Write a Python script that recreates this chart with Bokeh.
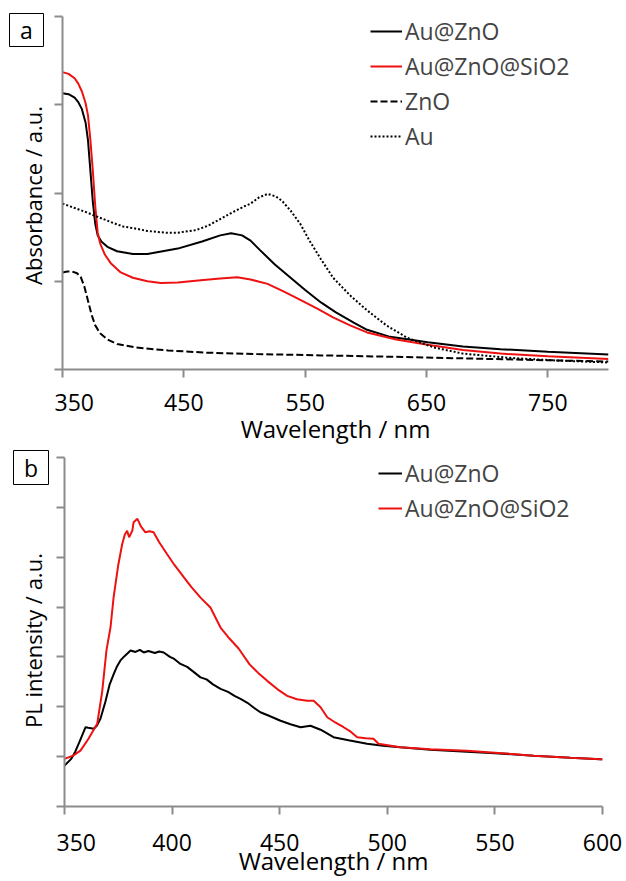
import math
from bokeh.plotting import figure
from bokeh.layouts import column, row
from bokeh.models import FixedTicker, Range1d, Legend, LegendItem, CustomLabelingPolicy
from bokeh.core.properties import value
from bokeh.embed import file_html
from bokeh.resources import INLINE

FONT = "Open Sans"
FS = "23px"
AXIS_COLOR = "#8c8c8c"

# ---------------- Panel a: absorbance ----------------
abs_x_ticks = [350, 450, 550, 650, 750]

auzno_wl = [350, 355, 360, 363, 366, 369, 371, 373, 375, 377, 379, 382, 387, 395, 408, 420,
            445, 465, 480, 489, 498, 505, 513, 525, 538, 550, 563, 575, 590, 601, 620, 651,
            680, 711, 750, 800]
auzno_abs = [3.13, 3.12, 3.08, 3.03, 2.95, 2.80, 2.60, 2.25, 1.90, 1.65, 1.52, 1.45, 1.39, 1.34,
             1.31, 1.31, 1.37, 1.45, 1.52, 1.545, 1.52, 1.46, 1.35, 1.19, 1.04, 0.90, 0.76,
             0.65, 0.53, 0.45, 0.37, 0.31, 0.26, 0.23, 0.20, 0.17]

auzno_sio2_wl = [350, 355, 360, 363, 366, 369, 371, 373, 375, 377, 379, 381, 385, 390, 398, 408,
                 420, 431, 445, 464, 480, 494, 505, 519, 533, 546, 560, 573, 587, 601, 625, 651,
                 680, 711, 750, 800]
auzno_sio2_abs = [3.37, 3.35, 3.30, 3.24, 3.15, 3.02, 2.88, 2.60, 2.25, 1.85, 1.55, 1.43, 1.30,
                  1.20, 1.10, 1.04, 1.00, 0.98, 0.985, 1.01, 1.03, 1.046, 1.02, 0.97, 0.88, 0.79,
                  0.69, 0.59, 0.50, 0.42, 0.34, 0.28, 0.22, 0.18, 0.15, 0.12]

zno_wl = [350, 354, 358, 362, 365, 368, 371, 374, 377, 381, 387, 395, 410, 437, 470, 510, 563,
          620, 700, 800]
zno_abs = [1.10, 1.11, 1.11, 1.09, 1.05, 0.94, 0.78, 0.62, 0.50, 0.41, 0.34, 0.29, 0.25, 0.215,
           0.19, 0.175, 0.16, 0.145, 0.12, 0.09]

au_wl = [350, 360, 370, 379, 390, 400, 409, 420, 435, 445, 460, 470, 478, 490, 500, 505, 512,
         519, 526, 531, 538, 546, 554, 563, 573, 587, 601, 617, 634, 656, 680, 720, 760, 800]
au_abs = [1.88, 1.83, 1.78, 1.73, 1.67, 1.62, 1.60, 1.57, 1.55, 1.55, 1.58, 1.63, 1.69, 1.78,
          1.85, 1.88, 1.95, 1.99, 1.96, 1.91, 1.80, 1.65, 1.45, 1.25, 1.04, 0.84, 0.67, 0.50,
          0.36, 0.25, 0.18, 0.13, 0.10, 0.08]

# ---------------- Panel b: PL ----------------
pl_x_ticks = [350, 400, 450, 500, 550, 600]

pl_auzno_wl = [350, 353, 355, 357, 359.8, 361, 363.6, 365, 366.7, 369, 371, 372.9, 374.5, 376,
               378, 380.7, 383, 385, 386.8, 389, 392, 394, 396.1, 399, 401, 403.9, 407, 410,
               413.2, 416, 419, 422.5, 426, 429, 431.8, 435, 438, 441, 445, 450.4, 455, 459.7,
               464.3, 469, 475, 482, 490.6, 498, 506, 520, 537, 550, 568, 585, 599, 600]
pl_auzno = [0.82, 0.95, 1.10, 1.30, 1.59, 1.58, 1.56, 1.62, 1.76, 2.10, 2.45, 2.66, 2.82, 2.93,
            3.02, 3.13, 3.10, 3.14, 3.09, 3.12, 3.08, 3.11, 3.09, 3.00, 2.96, 2.86, 2.80, 2.70,
            2.59, 2.55, 2.45, 2.36, 2.30, 2.22, 2.16, 2.08, 1.98, 1.89, 1.82, 1.72, 1.65, 1.59,
            1.62, 1.54, 1.39, 1.33, 1.26, 1.22, 1.19, 1.14, 1.10, 1.07, 1.02, 0.98, 0.95, 0.94]

pl_sio2_wl = [350, 354, 357.4, 361, 365.2, 367.5, 369.5, 371.4, 372.8, 375, 376.8, 378, 379.1,
              380, 381.5, 382.1, 383.9, 385.5, 387.6, 389.5, 391.4, 394, 397.7, 401, 405.4, 409,
              413.2, 417.8, 422.5, 426, 430.9, 436, 440, 444.2, 449, 453.5, 458, 462.8, 465.8,
              469, 472.1, 476, 479.7, 483, 486, 490, 493.6, 495.9, 506, 520, 537, 550, 568, 585,
              599, 600]
pl_sio2 = [0.955, 1.02, 1.12, 1.35, 1.66, 2.30, 3.13, 3.60, 4.19, 4.85, 5.26, 5.45, 5.53, 5.40,
           5.53, 5.70, 5.77, 5.62, 5.50, 5.52, 5.50, 5.30, 5.06, 4.85, 4.60, 4.40, 4.19, 3.99,
           3.59, 3.40, 3.17, 2.85, 2.68, 2.52, 2.35, 2.22, 2.15, 2.12, 2.12, 1.99, 1.79, 1.68,
           1.59, 1.50, 1.39, 1.37, 1.36, 1.26, 1.19, 1.15, 1.12, 1.08, 1.02, 0.98, 0.95, 0.95]


def style(p, xticks, yticks, tick_standoff, label_standoff):
    p.xgrid.visible = False
    p.ygrid.visible = False
    p.outline_line_color = None
    for ax in (p.xaxis[0], p.yaxis[0]):
        ax.axis_line_color = AXIS_COLOR
        ax.axis_line_width = 2
        ax.major_tick_line_color = AXIS_COLOR
        ax.major_tick_line_width = 2
        ax.major_tick_in = 0
        ax.major_tick_out = 8
        ax.minor_tick_line_color = None
        ax.major_label_text_font = FONT
        ax.major_label_text_font_size = FS
        ax.major_label_text_color = "black"
        ax.axis_label_text_font = FONT
        ax.axis_label_text_font_style = "normal"
        ax.axis_label_text_color = "black"
    p.xaxis[0].axis_label_text_font_size = "24px"
    p.xaxis[0].ticker = FixedTicker(ticks=xticks)
    p.yaxis[0].ticker = FixedTicker(ticks=yticks)
    p.yaxis[0].major_label_text_font_size = "0px"
    p.yaxis[0].major_label_policy = CustomLabelingPolicy(
        code="for (const i of [...indices]) indices.unset(i)")
    p.yaxis[0].major_label_standoff = 0
    p.xaxis[0].major_label_standoff = tick_standoff
    p.xaxis[0].axis_label_standoff = label_standoff


def side_panel(width, height, letter, box, ylabel, ylabel_xy):
    """Narrow strip left of each plot (1 data unit = 1 px) holding the panel
    letter box and the vertical axis title."""
    s = figure(width=width, height=height, min_border=0, x_range=Range1d(0, width),
               y_range=Range1d(0, height), x_axis_type=None, y_axis_type=None,
               toolbar_location=None, output_backend="svg", frame_align=False)
    s.xgrid.visible = False
    s.ygrid.visible = False
    s.outline_line_color = None
    bx, by, bw, bh = box
    s.rect(x=[bx], y=[height - by], width=[bw], height=[bh], fill_color="white",
           line_color="black", line_width=1)
    s.text(x=[bx], y=[height - by], text=[letter], text_font=value(FONT),
           text_font_size=value(FS), text_align="center", text_baseline="middle",
           text_color="black")
    s.text(x=[ylabel_xy[0]], y=[height - ylabel_xy[1]], text=[ylabel], text_font=value(FONT),
           text_font_size=value("22px"), text_align="center", text_baseline="middle",
           angle=math.pi / 2, text_color="black")
    return s


# Panel a
pa = figure(frame_width=546, frame_height=353, min_border_left=8, min_border_right=16,
            min_border_top=16, min_border_bottom=79, x_range=Range1d(350, 800),
            y_range=Range1d(0, 4), toolbar_location=None, output_backend="svg",
            x_axis_label="Wavelength / nm", frame_align=False)
style(pa, abs_x_ticks, [0, 1, 2, 3, 4], 16, -2)

ra1 = pa.line(auzno_wl, auzno_abs, line_color="black", line_width=2)
ra2 = pa.line(auzno_sio2_wl, auzno_sio2_abs, line_color="#ee1111", line_width=2)
ra3 = pa.line(zno_wl, zno_abs, line_color="black", line_width=2, line_dash="7 3")
ra4 = pa.line(au_wl, au_abs, line_color="black", line_width=2, line_dash="2 2")

leg_a = Legend(items=[LegendItem(label="Au@ZnO", renderers=[ra1]),
                      LegendItem(label="Au@ZnO@SiO2", renderers=[ra2]),
                      LegendItem(label="ZnO", renderers=[ra3]),
                      LegendItem(label="Au", renderers=[ra4])],
               location=(308, 217), padding=0, margin=0, border_line_color=None,
               background_fill_alpha=0, label_text_font=FONT, label_text_font_size=FS,
               glyph_width=32, glyph_height=30, label_height=30, spacing=3,
               label_standoff=3)
pa.add_layout(leg_a)

sa = side_panel(54, 448, "a", (26, 29.5, 34, 33), "Absorbance / a.u.", (32, 195))

# Panel b
pb = figure(frame_width=538, frame_height=349, min_border_left=8, min_border_right=22,
            min_border_top=9, min_border_bottom=74, x_range=Range1d(350, 600),
            y_range=Range1d(0, 7), toolbar_location=None, output_backend="svg",
            x_axis_label="Wavelength / nm", frame_align=False)
style(pb, pl_x_ticks, [0, 1, 2, 3, 4, 5, 6, 7], 19, -10)

rb1 = pb.line(pl_auzno_wl, pl_auzno, line_color="black", line_width=2)
rb2 = pb.line(pl_sio2_wl, pl_sio2, line_color="#ee1111", line_width=2)

leg_b = Legend(items=[LegendItem(label="Au@ZnO", renderers=[rb1]),
                      LegendItem(label="Au@ZnO@SiO2", renderers=[rb2])],
               location=(314, 282), padding=0, margin=0, border_line_color=None,
               background_fill_alpha=0, label_text_font=FONT, label_text_font_size=FS,
               glyph_width=24, glyph_height=30, label_height=30, spacing=3,
               label_standoff=3)
pb.add_layout(leg_b)

sb = side_panel(56, 432, "b", (30.5, 19, 35, 34), "PL intensity / a.u.", (32, 192))

layout = column(row(sa, pa, spacing=0), row(sb, pb, spacing=0), spacing=0)
open("out.html", "w").write(file_html(layout, INLINE))
